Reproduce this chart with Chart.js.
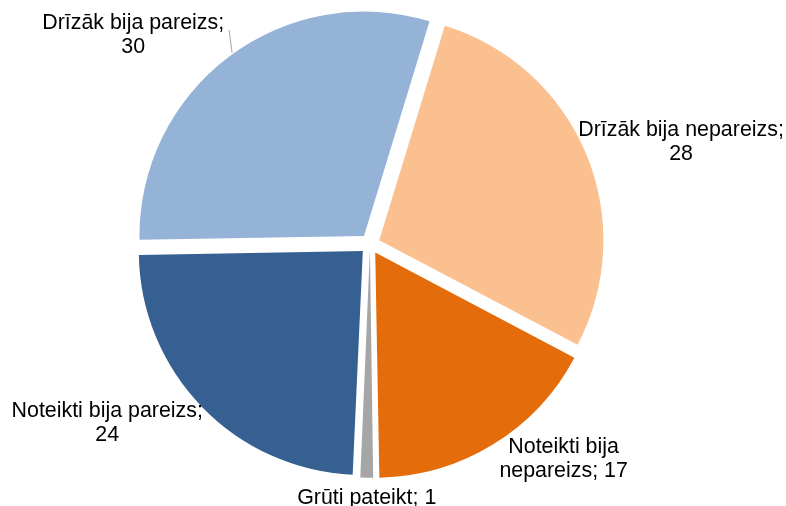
<!DOCTYPE html>
<html lang="lv">
<head>
<meta charset="UTF-8">
<title>Atbildes</title>
<script src="https://cdn.jsdelivr.net/npm/chart.js"></script>
<style>
  html, body { margin: 0; padding: 0; background: #fff; }
</style>
</head>
<body>
<canvas id="myChart" width="786" height="506"></canvas>
<script>
// dati (zīmēšanas secībā, pulksteņrādītāja virzienā)
const categories = ['Drīzāk bija nepareizs', 'Noteikti bija nepareizs', 'Grūti pateikt', 'Noteikti bija pareizs', 'Drīzāk bija pareizs'];
const values = [28, 17, 1, 24, 30];
const colors = ['#FAC090', '#E46C0A', '#A6A6A6', '#376092', '#95B3D7'];

function wrapText(ctx, text, maxWidth) {
    const words = text.split(' ');
    const lines = [];
    let cur = '';
    words.forEach(w => {
        const test = cur ? cur + ' ' + w : w;
        if (cur && ctx.measureText(test).width > maxWidth) {
            lines.push(cur);
            cur = w;
        } else {
            cur = test;
        }
    });
    if (cur) lines.push(cur);
    return lines;
}

const sliceLabels = {
    id: 'sliceLabels',
    afterDatasetsDraw(chart, args, opts) {
        const ctx = chart.ctx;
        const arcs = chart.getDatasetMeta(0).data;
        ctx.save();
        ctx.font = opts.font;
        ctx.textAlign = 'center';
        ctx.textBaseline = 'middle';
        arcs.forEach((arc, i) => {
            const p = arc.getProps(['x', 'y', 'startAngle', 'endAngle', 'outerRadius'], true);
            const mid = (p.startAngle + p.endAngle) / 2;
            const r = p.outerRadius + opts.gap;
            const cx = p.x + Math.cos(mid) * r + opts.nudge[i][0];
            const cy = p.y + Math.sin(mid) * r + opts.nudge[i][1];
            const lines = wrapText(ctx, categories[i] + '; ' + values[i], opts.maxWidth[i]);
            const top = cy - (lines.length - 1) * opts.lineHeight / 2;
            ctx.fillStyle = opts.color;
            let boxRight = 0;
            lines.forEach((ln, k) => {
                ctx.fillText(ln, cx, top + k * opts.lineHeight);
                boxRight = Math.max(boxRight, cx + ctx.measureText(ln).width / 2);
            });
            if (opts.leader[i]) {
                // līnija no teksta līdz sektora malai
                const sx = boxRight + 5;
                const sy = top + 7;
                const ox = p.x + Math.cos(mid) * opts.gap;
                const oy = p.y + Math.sin(mid) * opts.gap;
                const ex = sx + 3;
                const dx = ex - ox;
                const ey = oy - Math.sqrt(p.outerRadius * p.outerRadius - dx * dx) - 2;
                ctx.strokeStyle = '#A6A6A6';
                ctx.lineWidth = 1;
                ctx.beginPath();
                ctx.moveTo(sx, sy);
                ctx.lineTo(ex, ey);
                ctx.stroke();
            }
        });
        ctx.restore();
    }
};

const ctx = document.getElementById('myChart').getContext('2d');
new Chart(ctx, {
    type: 'pie',
    data: {
        labels: categories,
        datasets: [{
            data: values,
            backgroundColor: colors,
            borderWidth: 0,
            offset: [40, 40, 20, 40, 40]
        }]
    },
    options: {
        responsive: false,
        animation: false,
        rotation: 17,
        layout: { padding: { left: 126, right: 172, top: 0, bottom: 18 } },
        plugins: {
            legend: { display: false },
            tooltip: { enabled: false },
            sliceLabels: {
                font: '21.4px "Liberation Sans", Arial, sans-serif',
                color: '#000000',
                lineHeight: 24,
                gap: 10,
                maxWidth: [210, 132, 210, 210, 210],
                nudge: [[95, -12], [71, 15.5], [0, 20], [-95, 16], [-96, -22]],
                leader: [false, false, false, false, true]
            }
        }
    },
    plugins: [sliceLabels]
});
</script>
</body>
</html>
